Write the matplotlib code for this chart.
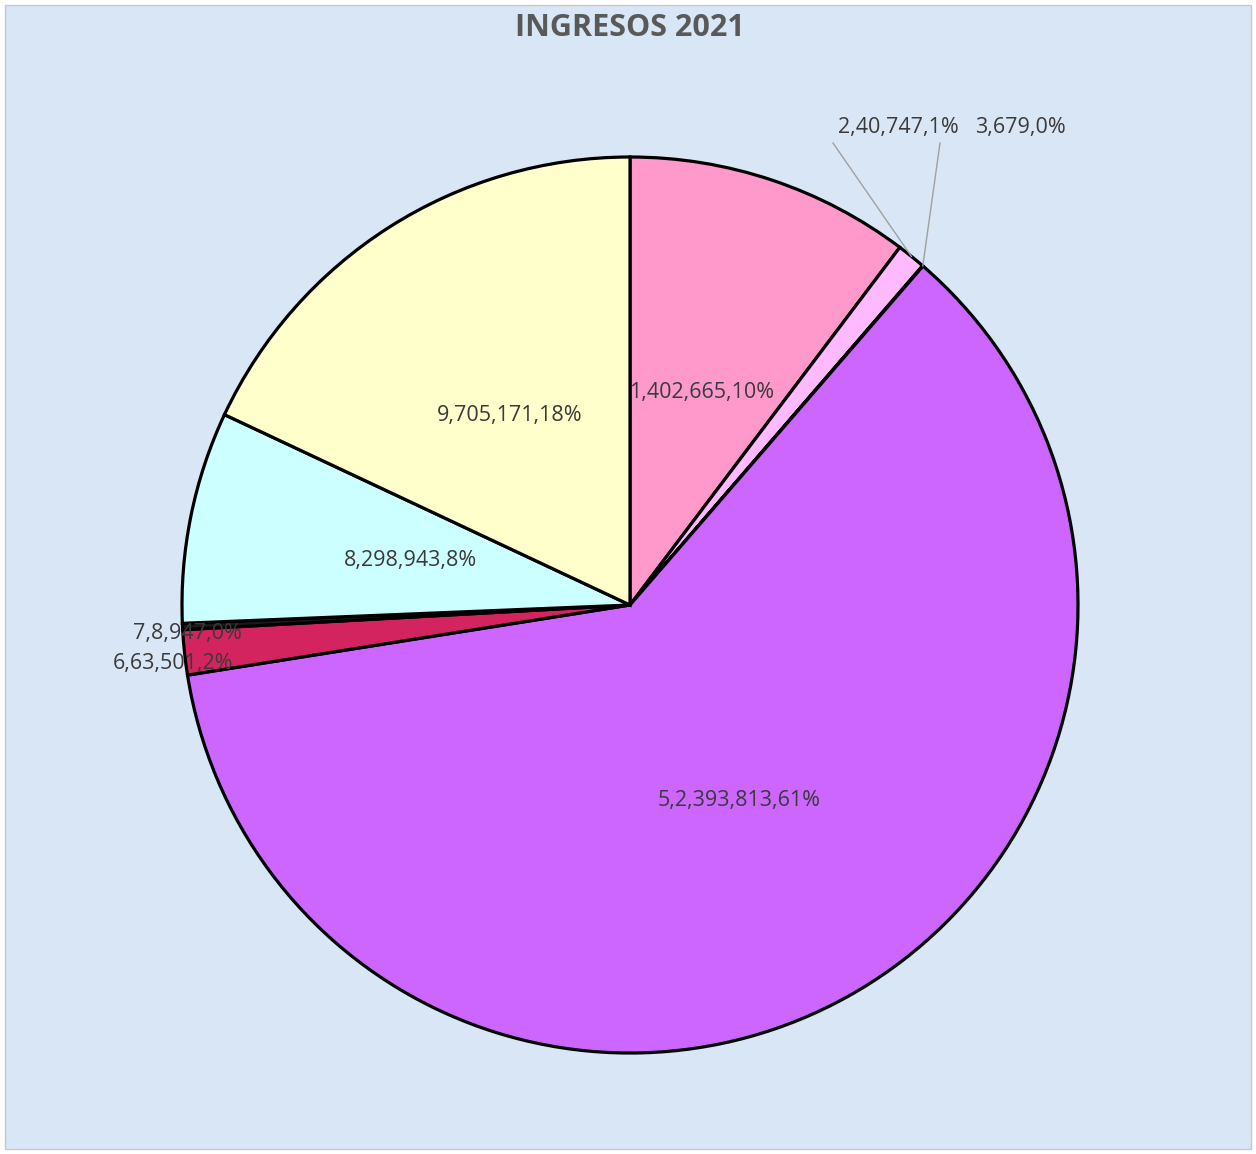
import matplotlib
matplotlib.use("Agg")
import matplotlib.pyplot as plt
import numpy as np
from matplotlib.patches import Rectangle

# Data (category, value) in pie order, clockwise from 12 o'clock
categories = ["1", "2", "3", "5", "6", "7", "8", "9"]
values = [402665, 40747, 679, 2393813, 63501, 8947, 298943, 705171]
percent_labels = ["10%", "1%", "0%", "61%", "2%", "0%", "8%", "18%"]
colors = ["#ff99cc", "#ffb9ff", "#d070ff", "#cc66ff", "#d42460", "#1a1a1a",
          "#ccffff", "#ffffcc"]
title = "INGRESOS 2021"

W, H = 1256, 1154
fig = plt.figure(figsize=(W / 100, H / 100), dpi=100)
fig.patch.set_facecolor("white")
ax = fig.add_axes([0, 0, 1, 1])

# background
ax.add_patch(Rectangle((5, 5), W - 10, H - 10, facecolor="#d9e6f6",
                       edgecolor="#c8c8c8", linewidth=1, zorder=0))

cx, cy, R = 630, H - 605, 448
wedges, _ = ax.pie(values, colors=colors, startangle=90, counterclock=False,
                   center=(cx, cy), radius=R,
                   wedgeprops=dict(edgecolor="black", linewidth=2.3),
                   frame=True)
for w in wedges:
    w.set_zorder(2)

ax.set_xlim(0, W)
ax.set_ylim(0, H)
ax.set_aspect("equal", adjustable="box")
ax.axis("off")

txt_kw = dict(color="#3a3a3a", fontsize=15.5, family=["Open Sans", "DejaVu Sans"],
              ha="center", va="center", zorder=5)

def label_text(i):
    return f"{categories[i]},{values[i]:,},{percent_labels[i]}"

def mid_dir(w):
    a = np.deg2rad((w.theta1 + w.theta2) / 2)
    return np.cos(a), np.sin(a)

inside = {0, 3, 6, 7}
for i, w in enumerate(wedges):
    dx, dy = mid_dir(w)
    if i in inside:
        ax.text(cx + 0.5 * R * dx, cy + 0.5 * R * dy, label_text(i), **txt_kw)

# outside labels with leader lines
outside = {1: ((898, H - 128), (833, H - 143)),
           2: ((1020, H - 128), (940, H - 143))}
for i, (pos, lstart) in outside.items():
    dx, dy = mid_dir(wedges[i])
    ex, ey = cx + R * dx, cy + R * dy
    ax.plot([lstart[0], ex], [lstart[1], ey], color="#a0a0a0", lw=1, zorder=4)
    ax.text(pos[0], pos[1], label_text(i), **txt_kw)

# edge labels for small slices 7 and 6
ax.text(187, H - 634, label_text(5), **txt_kw)
ax.text(173, H - 663, label_text(4), **txt_kw)

ax.text(630, H - 28, title, color="#595959", fontsize=22, fontweight="bold",
        family=["Open Sans", "DejaVu Sans"], ha="center", va="center", zorder=5)

fig.savefig("out.png", dpi=100)
